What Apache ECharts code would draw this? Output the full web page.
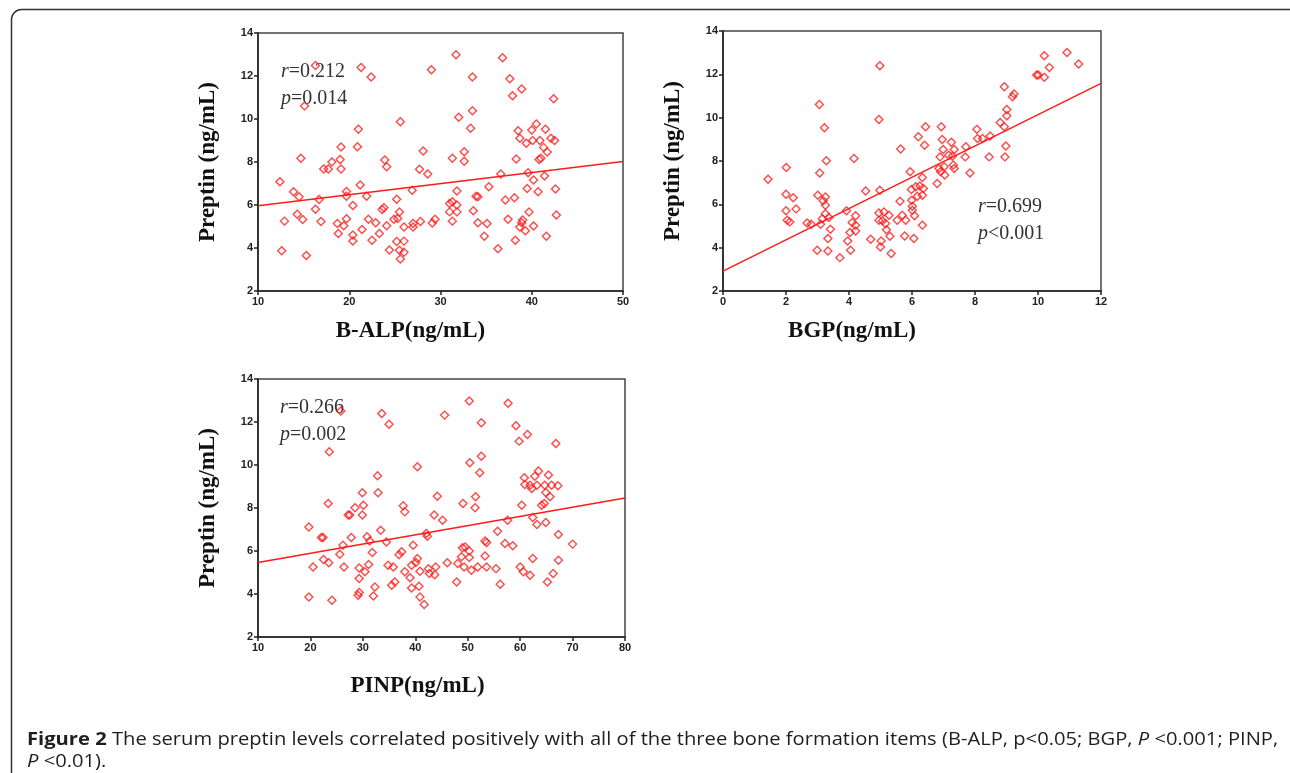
<!DOCTYPE html>
<html>
<head>
<meta charset="utf-8">
<script src="https://cdn.jsdelivr.net/npm/echarts@6/dist/echarts.min.js"></script>
<style>
html,body{margin:0;padding:0;background:#fff;}
#chart{width:1290px;height:773px;}
</style>
</head>
<body>
<div id="chart"></div>
<script>
// ---------- Panel 1: B-ALP ----------
const balpX = [12.4,12.6,12.9,13.9,14.5,14.3,14.9,14.7,15.1,15.3,16.3,16.3,16.7,16.9,17.2,17.7,18.1,18.7,18.8,19.0,19.1,19.1,19.4,19.7,19.7,19.7,20.4,20.4,20.4,20.9,21.0,21.2,21.3,21.4,21.9,22.1,22.4,22.5,22.9,23.3,23.6,23.8,23.9,24.1,24.1,24.4,24.9,25.2,25.2,25.3,25.5,25.5,25.6,25.6,26.0,26.0,26.0,26.9,27.0,27.0,27.7,27.8,28.1,28.6,29.0,29.1,29.4,31.0,31.0,31.3,31.3,31.3,31.7,31.8,31.8,31.8,32.0,32.6,32.6,33.3,33.5,33.5,33.6,33.9,34.1,34.1,34.8,35.1,35.3,36.3,36.6,36.8,37.1,37.4,37.6,37.9,38.1,38.2,38.3,38.5,38.7,38.7,38.9,38.9,39.0,39.3,39.4,39.5,39.6,39.7,40.0,40.1,40.2,40.2,40.5,40.7,40.8,40.9,41.0,41.3,41.4,41.5,41.6,41.7,42.1,42.5,42.4,42.6,42.7];
const balpY = [7.08,3.87,5.25,6.62,6.38,5.57,5.33,8.17,10.61,3.65,12.49,5.80,6.26,5.23,7.67,7.67,8.00,5.14,4.67,8.12,8.70,7.67,5.03,6.63,6.41,5.36,5.98,4.60,4.33,8.71,9.52,6.93,12.40,4.86,6.41,5.34,11.95,4.36,5.17,4.67,5.79,5.87,8.09,7.78,5.03,3.91,5.34,6.27,4.30,5.37,3.90,5.67,9.87,3.49,4.32,3.80,4.98,6.69,4.98,5.14,7.66,5.23,8.51,7.44,12.29,5.16,5.34,6.07,5.68,8.17,6.15,5.25,12.99,6.65,6.00,5.68,10.08,8.48,8.03,9.57,11.95,10.38,5.73,6.41,6.38,5.17,4.55,5.14,6.85,3.97,7.44,12.85,6.23,5.34,11.87,11.08,6.34,4.36,8.14,9.45,9.10,4.98,11.40,5.17,5.30,4.80,8.87,6.77,7.50,5.67,9.49,9.00,7.16,5.02,9.77,6.62,8.12,9.00,8.17,8.68,7.35,9.52,4.55,8.46,9.10,9.00,10.94,6.74,5.53];
const balpFitX = [10, 50];
const balpFitY = [5.96, 8.02];

// ---------- Panel 2: BGP ----------
const bgpX = [1.43,2.01,2.00,2.23,2.00,2.32,2.04,2.12,2.67,2.80,2.99,3.01,3.06,3.07,3.10,3.15,3.18,3.22,3.25,3.25,3.25,3.28,3.33,3.36,3.33,3.41,3.71,3.92,3.96,4.03,4.05,4.10,4.16,4.21,4.21,4.21,4.53,4.69,4.95,4.98,4.95,4.95,4.98,5.00,5.02,5.06,5.11,5.16,5.19,5.27,5.30,5.34,5.53,5.62,5.64,5.69,5.77,5.80,5.94,5.98,5.99,6.01,6.01,6.06,6.08,6.12,6.17,6.20,6.25,6.33,6.33,6.33,6.36,6.40,6.43,6.80,6.86,6.89,6.91,6.93,6.96,6.99,7.02,7.04,7.16,7.25,7.28,7.31,7.34,7.34,7.69,7.71,7.84,8.06,8.08,8.24,8.45,8.48,8.80,8.93,8.93,8.95,8.98,9.01,9.01,9.19,9.24,9.96,10.01,10.20,10.20,10.36,10.92,11.29];
const bgpY = [7.16,7.70,6.47,6.30,5.70,5.79,5.27,5.19,5.14,5.08,3.88,6.42,10.61,7.45,5.08,5.34,6.16,9.53,6.34,5.96,5.57,8.01,3.85,5.39,4.42,4.85,3.54,5.70,4.31,4.70,3.88,5.16,8.12,5.47,5.04,4.77,6.62,4.39,9.92,12.40,5.60,5.27,6.65,4.03,4.31,5.24,5.65,5.11,4.83,5.50,4.53,3.73,5.27,6.14,8.55,5.50,4.54,5.27,7.50,6.68,6.19,5.91,5.73,4.42,5.47,6.81,6.37,9.12,6.85,7.24,6.42,5.04,6.73,8.73,9.58,6.96,7.65,8.19,7.50,9.58,8.99,8.53,7.73,7.35,8.27,8.87,8.22,7.81,8.53,7.65,8.19,8.66,7.45,9.46,9.04,9.04,8.19,9.15,9.78,9.58,11.43,8.19,8.69,10.09,10.38,10.97,11.09,11.97,11.97,12.86,11.86,12.32,13.01,12.48];
const bgpFitX = [0, 12];
const bgpFitY = [2.92, 11.58];

// ---------- Panel 3: PINP ----------
const pinpX = [19.7,19.7,20.5,22.1,22.4,22.5,23.4,23.6,23.5,24.1,25.6,25.8,26.2,26.4,27.2,27.5,27.8,28.5,29.1,29.3,29.3,29.3,29.9,30.1,29.9,30.4,30.8,31.1,31.3,31.8,32.0,32.3,32.8,32.9,33.4,33.6,34.5,35.0,34.8,35.5,35.8,36.1,36.9,37.4,37.7,38.0,38.0,39.0,39.3,39.3,39.6,40.1,40.4,40.4,40.7,40.9,40.9,41.7,42.1,42.3,42.5,42.7,43.6,43.7,43.9,44.2,45.2,45.6,46.1,47.9,48.1,48.8,49.0,49.1,49.3,49.5,50.3,50.4,50.3,50.3,50.7,51.5,51.4,51.9,52.3,52.6,52.6,53.3,53.3,53.6,53.6,55.4,55.7,56.2,57.1,57.6,57.7,58.6,59.2,59.8,60.0,60.3,60.6,60.8,60.9,61.4,61.9,61.9,62.2,62.4,62.4,62.8,63.2,63.2,63.5,64.1,64.6,64.7,64.9,64.9,65.2,65.4,65.7,66.0,66.3,66.8,67.2,67.3,67.3,70.0];
const pinpY = [7.12,3.86,5.26,6.63,6.63,5.60,8.21,10.62,5.45,3.71,5.85,12.51,6.27,5.26,7.67,7.67,6.63,8.01,3.94,4.07,5.21,4.72,8.71,8.13,7.67,5.03,6.66,5.37,6.47,5.93,3.91,4.33,9.50,8.71,6.97,12.40,6.42,11.90,5.34,4.41,5.26,4.56,5.83,5.96,8.10,7.82,5.03,4.76,5.34,4.28,6.27,5.46,5.65,9.92,4.36,3.86,5.06,3.51,6.81,6.69,5.18,4.95,7.67,4.90,5.26,8.55,7.43,12.32,5.45,4.56,5.42,5.73,6.15,8.21,5.26,6.19,12.98,10.10,6.00,5.70,5.10,8.52,8.01,5.26,9.64,11.97,10.41,6.46,5.77,6.39,5.26,5.18,6.92,4.45,6.35,7.43,12.87,6.24,11.83,11.11,5.26,8.13,5.03,9.41,9.09,11.42,4.87,9.06,8.91,7.56,5.65,9.48,7.23,9.06,9.72,8.13,8.21,9.06,8.72,7.33,4.56,9.53,8.52,9.06,4.95,11.00,9.03,6.77,5.57,6.32];
const pinpFitX = [10, 80];
const pinpFitY = [5.46, 8.47];

// tick settings
const yTicks = { min: 2, max: 14, interval: 2 };
const xTicks1 = { min: 10, max: 50, interval: 10 };
const xTicks2 = { min: 0, max: 12, interval: 2 };
const xTicks3 = { min: 10, max: 80, interval: 10 };

const xNames = ['B-ALP(ng/mL)', 'BGP(ng/mL)', 'PINP(ng/mL)'];
const yName = 'Preptin (ng/mL)';
const statR = ['0.212', '0.699', '0.266'];
const statP = ['=0.014', '<0.001', '=0.002'];
const caption1 = 'The serum preptin levels correlated positively with all of the three bone formation items (B-ALP, p<0.05; BGP, ';
const caption2 = ' <0.001; PINP,';
const caption3 = ' <0.01).';

function pairs(xs, ys){ return xs.map((x,i)=>[x, ys[i]]); }

const RED = '#ff1a1a';
const tickLabel = { fontFamily: 'Liberation Sans', fontWeight: 'bold', fontSize: 11, color: '#222', margin: 5 };
const axisLine = { show: true, lineStyle: { color: '#222', width: 1.5 } };
const axisTick = { show: true, inside: false, length: 4, lineStyle: { color: '#222', width: 1.5 } };
const nameStyle = { fontFamily: 'Liberation Serif', fontWeight: 'bold', fontSize: 23, color: '#111' };

const grids = [
  { left: 258, top: 33, width: 365, height: 258 },
  { left: 723, top: 31, width: 378, height: 260 },
  { left: 258, top: 379, width: 367, height: 258 }
].map(g => Object.assign(g, { show: true, borderColor: '#444', borderWidth: 1.5, backgroundColor: 'transparent' }));

const xRanges = [xTicks1, xTicks2, xTicks3];
const xNameGap = [29, 29, 38];
const xNamePad = [[0,60,0,0],[0,120,0,0],[0,48,0,0]];

const xAxes = xRanges.map((r, i) => ({
  type: 'value', gridIndex: i, min: r.min, max: r.max, interval: r.interval,
  axisLine, axisTick, axisLabel: tickLabel, splitLine: { show: false },
  name: xNames[i], nameLocation: 'middle', nameGap: xNameGap[i],
  nameTextStyle: Object.assign({}, nameStyle, { padding: xNamePad[i] })
}));
const yAxes = [0,1,2].map(i => ({
  type: 'value', gridIndex: i, min: yTicks.min, max: yTicks.max, interval: yTicks.interval,
  axisLine, axisTick, axisLabel: tickLabel, splitLine: { show: false },
  name: yName, nameLocation: 'middle', nameGap: 38, nameRotate: 90,
  nameTextStyle: nameStyle
}));

const sets = [[balpX, balpY, balpFitX, balpFitY],[bgpX, bgpY, bgpFitX, bgpFitY],[pinpX, pinpY, pinpFitX, pinpFitY]];
const series = [];
sets.forEach((s, i) => {
  series.push({
    type: 'scatter', xAxisIndex: i, yAxisIndex: i, data: pairs(s[0], s[1]),
    symbol: 'diamond', symbolSize: [8, 8],
    itemStyle: { color: 'rgba(255,255,255,0)', borderColor: RED, borderWidth: 1.4 },
    silent: true
  });
  series.push({
    type: 'line', xAxisIndex: i, yAxisIndex: i, data: pairs(s[2], s[3]),
    symbol: 'none', lineStyle: { color: RED, width: 1.5 }, silent: true, z: 1
  });
});

const statPos = [[281, 58], [978, 193], [280, 394]];
const statStyle = { fontFamily: 'Liberation Serif', fontSize: 20, fill: '#333' };
const graphics = [];
statPos.forEach((p, i) => {
  graphics.push({ type: 'text', left: p[0], top: p[1], silent: true,
    style: Object.assign({ text: '{i|r}=' + statR[i] + '\n{i|p}' + statP[i], lineHeight: 27,
      rich: { i: { fontStyle: 'italic', fontFamily: 'Liberation Serif', fontSize: 20, fill: '#333' } } }, statStyle) });
});
graphics.push({ type: 'rect', left: 9, top: 7, silent: true,
  shape: { width: 1300, height: 780, r: 10 }, style: { fill: 'none', stroke: '#333', lineWidth: 1.5 } });
graphics.push({ type: 'text', left: 27, top: 729, silent: true, scaleX: 1.12,
  style: { text: '{b|Figure 2} ' + caption1 + '{i|P}' + caption2 + '\n{i|P}' + caption3,
    fontFamily: 'Open Sans', fontSize: 18, fill: '#1e1e1e', lineHeight: 22,
    rich: { b: { fontWeight: 'bold', fontFamily: 'Open Sans', fontSize: 18, fill: '#1e1e1e' },
            i: { fontStyle: 'italic', fontFamily: 'Open Sans', fontSize: 18, fill: '#1e1e1e' } } } });

const chart = echarts.init(document.getElementById('chart'), null, { renderer: 'canvas' });
chart.setOption({
  animation: false,
  backgroundColor: '#fff',
  grid: grids, xAxis: xAxes, yAxis: yAxes, series, graphic: graphics
});
</script>
</body>
</html>
